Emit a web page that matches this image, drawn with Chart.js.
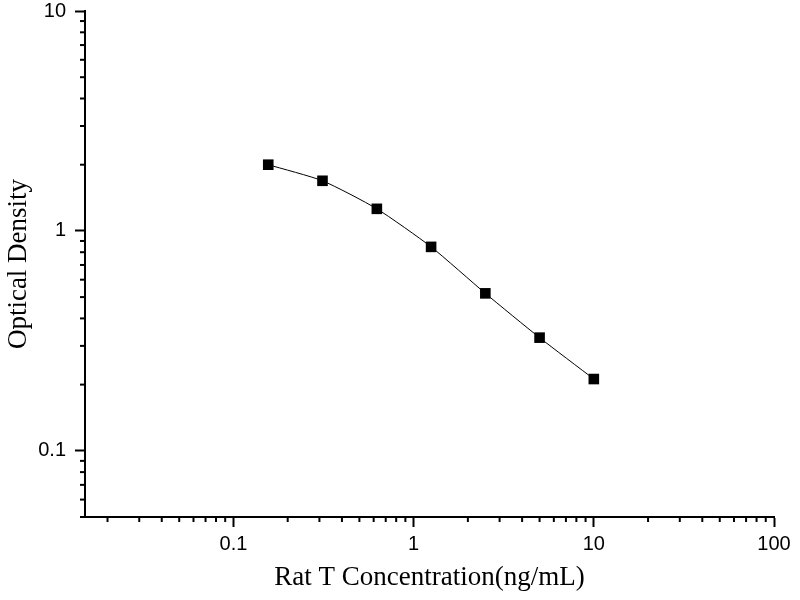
<!DOCTYPE html>
<html lang="en">
<head>
    <meta charset="UTF-8">
    <title>Rat T standard curve</title>
    <style>
        html, body { margin: 0; padding: 0; background: #ffffff; }
        #chartBox { width: 800px; height: 600px; }
    </style>
</head>
<body>
    <div id="chartBox">
        <canvas id="curveChart" width="800" height="600"></canvas>
    </div>

    <script src="https://cdn.jsdelivr.net/npm/chart.js"></script>
    <script>
        // Data
        const concValues = [0.156, 0.312, 0.625, 1.25, 2.5, 5, 10];
        const odValues = [2.0, 1.69, 1.26, 0.846, 0.52, 0.327, 0.212];
        const xTickValues = [0.1, 1, 10, 100];
        const yTickValues = [0.1, 1, 10];

        const xTitle = 'Rat T Concentration(ng/mL)';
        const yTitle = 'Optical Density';

        const tickFont = { family: '"Liberation Sans", Arial, sans-serif', size: 20 };
        const titleFont = { family: '"Liberation Serif", "Times New Roman", serif', size: 27 };

        // Short minor ticks between the decades
        const minorTicks = {
            id: 'minorTicks',
            afterDraw(chart) {
                const ctx = chart.ctx;
                ctx.save();
                ctx.strokeStyle = '#000';
                ctx.lineWidth = 2;
                ['x', 'y'].forEach(id => {
                    const scale = chart.scales[id];
                    const lo = Math.floor(Math.log10(scale.min));
                    const hi = Math.ceil(Math.log10(scale.max));
                    for (let e = lo; e < hi; e++) {
                        for (let m = 2; m <= 9; m++) {
                            const v = m * Math.pow(10, e);
                            if (v < scale.min || v > scale.max) continue;
                            const p = scale.getPixelForValue(v);
                            ctx.beginPath();
                            if (id === 'x') {
                                ctx.moveTo(p, chart.chartArea.bottom);
                                ctx.lineTo(p, chart.chartArea.bottom + 5);
                            } else {
                                ctx.moveTo(chart.chartArea.left, p);
                                ctx.lineTo(chart.chartArea.left - 5, p);
                            }
                            ctx.stroke();
                        }
                    }
                });
                ctx.restore();
            }
        };

        const curveChart = new Chart(document.getElementById('curveChart'), {
            type: 'line',
            data: {
                datasets: [{
                    data: concValues.map((c, i) => ({ x: c, y: odValues[i] })),
                    borderColor: '#000',
                    backgroundColor: '#000',
                    borderWidth: 1,
                    tension: 0.2,
                    pointStyle: 'rect',
                    pointRadius: 7.5,
                    pointBorderWidth: 0
                }]
            },
            options: {
                responsive: false,
                animation: false,
                devicePixelRatio: 1,
                layout: { padding: { top: 11, right: 26, left: 0, bottom: 0 } },
                plugins: {
                    legend: { display: false },
                    tooltip: { enabled: false }
                },
                scales: {
                    x: {
                        type: 'logarithmic',
                        position: 'bottom',
                        min: 0.015,
                        max: 100,
                        afterBuildTicks: s => { s.ticks = xTickValues.map(v => ({ value: v })); },
                        afterFit: s => { s.height = 83; s.paddingLeft = 0; s.paddingRight = 0; },
                        ticks: {
                            autoSkip: false,
                            maxRotation: 0,
                            padding: 5,
                            color: '#000',
                            font: tickFont,
                            callback: v => String(v)
                        },
                        grid: {
                            drawOnChartArea: false,
                            drawTicks: true,
                            tickLength: 10,
                            tickWidth: 2,
                            tickColor: '#000'
                        },
                        border: { display: true, color: '#000', width: 2 },
                        title: {
                            display: true,
                            text: xTitle,
                            color: '#000',
                            font: titleFont,
                            padding: { top: 0, bottom: 6 }
                        }
                    },
                    y: {
                        type: 'logarithmic',
                        min: 0.05,
                        max: 10,
                        afterBuildTicks: s => { s.ticks = yTickValues.map(v => ({ value: v })); },
                        afterFit: s => { s.width = 85; s.paddingTop = 0; s.paddingBottom = 0; },
                        ticks: {
                            autoSkip: false,
                            padding: 9,
                            color: '#000',
                            font: tickFont,
                            callback: v => String(v)
                        },
                        grid: {
                            drawOnChartArea: false,
                            drawTicks: true,
                            tickLength: 10,
                            tickWidth: 2,
                            tickColor: '#000'
                        },
                        border: { display: true, color: '#000', width: 2 },
                        title: {
                            display: true,
                            text: yTitle,
                            color: '#000',
                            font: titleFont,
                            padding: { top: 3, bottom: 3 }
                        }
                    }
                }
            },
            plugins: [minorTicks]
        });
    </script>
</body>
</html>
